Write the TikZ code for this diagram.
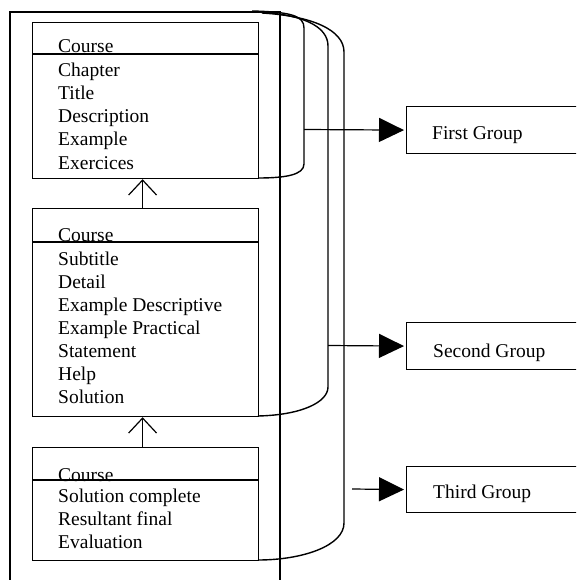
\documentclass[tikz,border=0pt]{standalone}
\usepackage{fontspec}
\setmainfont{Liberation Serif}
\usetikzlibrary{arrows.meta}
\tikzset{
  lbl/.style={anchor=base west, inner sep=0pt, font=\fontsize{19.5}{23}\selectfont},
  coursebox/.style={draw, line width=1.2pt, rectangle, anchor=north west, inner sep=0pt, minimum width=226pt},
  groupbox/.style={draw, line width=1.2pt, rectangle, anchor=north west, minimum width=200pt, minimum height=47pt, inner sep=0pt},
  thinline/.style={line width=1.2pt},
  curveline/.style={line width=1.4pt, line join=round},
  openarrow/.style={line width=1.2pt, -{Straight Barb[length=15pt,width=28pt]}},
  fillarrow/.style={line width=1.2pt, shorten >=2pt, -{Triangle[length=25pt,width=24pt]}},
}
\begin{document}
\begin{tikzpicture}[x=1pt,y=-1pt]
\path[use as bounding box, clip] (0,0) rectangle (576,580);

% outer frame
\draw[thinline] (10,595) -- (10,12) -- (280,12) -- (280,595);

% group outlines
\draw[curveline] (252,11) .. controls (292,12) and (304,16) .. (304,28) -- (304,164)
  .. controls (304,175) and (285,178) .. (258,178);
\draw[curveline] (256,12) .. controls (302,14) and (328,26) .. (328,46) -- (328,387)
  .. controls (328,402) and (302,415) .. (258,416);
\draw[curveline] (262,13) .. controls (312,16) and (344,30) .. (344,52) -- (344,523)
  .. controls (344,546) and (302,560) .. (258,560);

% box 1
\node[coursebox, minimum height=156pt] (b1) at (32,22) {};
\draw[thinline] ([yshift=-32pt]b1.north west) -- ([yshift=-32pt]b1.north east);
\node[lbl] (b1c) at (58,53) {Course};
\foreach \t [count=\i] in {Chapter,Title,Description,Example,Exercices}
  \node[lbl] (b1l\i) at (58,54+23*\i) {\t};

% box 2
\node[coursebox, minimum height=208pt] (b2) at (32,208) {};
\draw[thinline] ([yshift=-34pt]b2.north west) -- ([yshift=-34pt]b2.north east);
\node[lbl] (b2c) at (58,241) {Course};
\foreach \t [count=\i] in {Subtitle,Detail,Example Descriptive,Example Practical,Statement,Help,Solution}
  \node[lbl] (b2l\i) at (58,242+23*\i) {\t};

% box 3
\node[coursebox, minimum height=113pt] (b3) at (32,447) {};
\draw[thinline] ([yshift=-33pt]b3.north west) -- ([yshift=-33pt]b3.north east);
\node[lbl] (b3c) at (58,481) {Course};
\foreach \t [count=\i] in {Solution complete,Resultant final,Evaluation}
  \node[lbl] (b3l\i) at (58,480+22.7*\i) {\t};

% arrows between boxes
\draw[openarrow] ([xshift=-3pt]b2.north) -- ([xshift=-3pt]b1.south);
\draw[openarrow] ([xshift=-3pt]b3.north) -- ([xshift=-3pt]b2.south);

% group boxes
\node[groupbox] (fg) at (406,106) {};
\node[lbl] (fgt) at (432,140) {First Group};
\node[groupbox] (sg) at (406,322) {};
\node[lbl] (sgt) at (433,357) {Second Group};
\node[groupbox, minimum height=46pt] (tg) at (406,466) {};
\node[lbl] (tgt) at (433,498) {Third Group};

% group arrows
\coordinate (a1) at (304,129.5);
\coordinate (a2) at (328,345.5);
\coordinate (a3) at (352,489);
\draw[fillarrow] (a1) -- (fg.west);
\draw[fillarrow] (a2) -- (sg.west);
\draw[fillarrow] (a3) -- (tg.west);
\end{tikzpicture}
\end{document}
